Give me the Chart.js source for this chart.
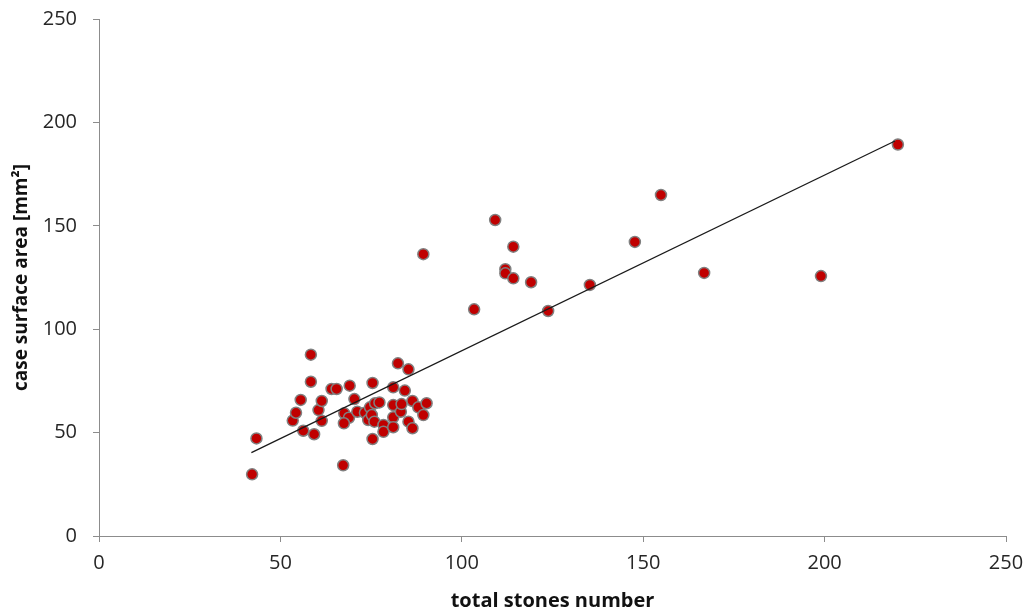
<!DOCTYPE html>
<html>
<head>
<meta charset="utf-8">
<script src="https://cdn.jsdelivr.net/npm/chart.js@4/dist/chart.umd.min.js"></script>
<style>
  html, body { margin: 0; padding: 0; background: #fff; }
  #wrap { width: 1029px; height: 613px; }
</style>
</head>
<body>
<div id="wrap"><canvas id="chart" width="1029" height="613"></canvas></div>
<script>
// total stones number (x) and case surface area in mm2 (y)
const stones = [
  42.2, 43.4, 53.4, 54.3, 55.6, 56.3, 58.4, 58.4, 59.3, 60.5,
  61.4, 61.4, 64.1, 65.5, 67.3, 67.6, 68.9, 67.5, 69.1, 70.4,
  71.2, 73.3, 74.2, 74.7, 75.2, 75.4, 75.4, 75.9, 76.1, 77.3,
  78.4, 78.4, 81.1, 81.1, 81.1, 81.1, 83.2, 83.4, 84.3, 85.3,
  85.3, 86.4, 86.4, 88.0, 89.4, 90.3, 82.4,
  89.4, 103.4, 109.2, 112.0, 112.0, 114.2, 114.2, 119.1, 123.8, 135.3,
  147.7, 154.9, 166.8, 199.0, 220.2
];
const area = [
  29.8, 47.2, 55.8, 59.6, 65.8, 50.9, 87.7, 74.6, 49.2, 60.9,
  65.3, 55.7, 71.1, 71.1, 34.2, 59.3, 57.2, 54.5, 72.7, 66.2,
  60.1, 59.6, 56.1, 62.2, 58.5, 74.0, 46.9, 55.3, 64.2, 64.6,
  53.7, 50.4, 71.9, 63.3, 57.4, 52.6, 60.1, 63.8, 70.3, 80.6,
  55.3, 65.3, 52.1, 62.2, 58.5, 64.2, 83.5,
  136.3, 109.6, 152.8, 129.0, 127.0, 139.9, 124.6, 122.7, 108.8, 121.4,
  142.2, 164.9, 127.2, 125.7, 189.3
];

// linear trend line end points
const trendX = [42.0, 219.4];
const trendY = [40.3, 191.0];

const axisColor = '#8c8c8c';
const textColor = '#262626';

const points = stones.map((x, i) => ({ x: x, y: area[i] }));
const trend = trendX.map((x, i) => ({ x: x, y: trendY[i] }));

const ctx = document.getElementById('chart').getContext('2d');
new Chart(ctx, {
  type: 'scatter',
  data: {
    datasets: [
      {
        label: 'trend',
        type: 'line',
        data: trend,
        borderColor: '#1a1a1a',
        borderWidth: 1.3,
        pointRadius: 0,
        fill: false
      },
      {
        label: 'stones',
        data: points,
        backgroundColor: '#c00000',
        borderColor: '#808080',
        borderWidth: 1.5,
        pointRadius: 5.5
      }
    ]
  },
  options: {
    responsive: false,
    animation: false,
    layout: { padding: { top: 19, right: 23, bottom: 0, left: 0 } },
    plugins: {
      legend: { display: false },
      tooltip: { enabled: false }
    },
    scales: {
      x: {
        type: 'linear',
        min: 0,
        max: 250,
        ticks: {
          stepSize: 50,
          color: textColor,
          padding: 9,
          font: { family: 'Open Sans', size: 20 }
        },
        grid: {
          drawOnChartArea: false,
          drawTicks: true,
          tickLength: 6,
          color: axisColor
        },
        border: { color: axisColor, width: 1 },
        title: {
          display: true,
          text: 'total stones number',
          color: '#111111',
          font: { family: 'Open Sans', size: 20, weight: 'bold' },
          padding: { top: 8, bottom: 0 }
        },
        afterFit: scale => {
          scale.height = 77;
          scale.paddingRight = 0;
        }
      },
      y: {
        type: 'linear',
        min: 0,
        max: 250,
        ticks: {
          stepSize: 50,
          color: textColor,
          padding: 16,
          font: { family: 'Open Sans', size: 20 }
        },
        grid: {
          drawOnChartArea: false,
          drawTicks: true,
          tickLength: 6,
          color: axisColor
        },
        border: { color: axisColor, width: 1 },
        title: {
          display: true,
          text: 'case surface area [mm\u00b2]',
          color: '#111111',
          font: { family: 'Open Sans', size: 19, weight: 'bold' },
          padding: { top: 10, bottom: 0 }
        },
        afterFit: scale => {
          scale.width = 99;
          scale.paddingTop = 0;
        }
      }
    }
  }
});
</script>
</body>
</html>
